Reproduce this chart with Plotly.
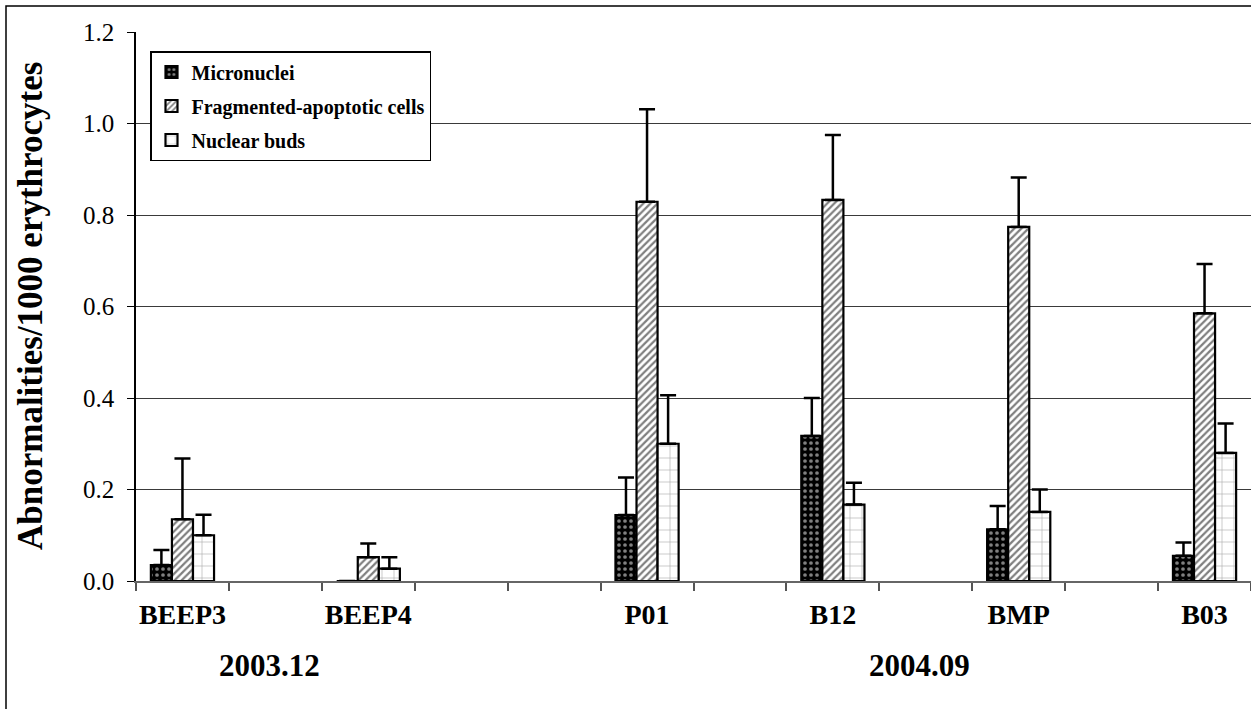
import plotly.graph_objects as go

# ---- data ----
categories = ["BEEP3", " ", "BEEP4", "  ", "   ", "P01", "    ", "B12", "     ", "BMP", "      ", "B03"]
sites = ["BEEP3", "BEEP4", "P01", "B12", "BMP", "B03"]
micronuclei = [0.035, 0.0, 0.144, 0.317, 0.113, 0.055]
micronuclei_err = [0.033, 0.0, 0.082, 0.083, 0.051, 0.029]
fragmented = [0.135, 0.052, 0.829, 0.833, 0.774, 0.585]
fragmented_err = [0.133, 0.030, 0.202, 0.142, 0.108, 0.108]
nuclear_buds = [0.100, 0.027, 0.300, 0.167, 0.151, 0.280]
nuclear_buds_err = [0.045, 0.025, 0.106, 0.048, 0.049, 0.064]
groups = {"2003.12": ["BEEP3", "BEEP4"], "2004.09": ["P01", "B12", "BMP", "B03"]}
y_ticks = [0.0, 0.2, 0.4, 0.6, 0.8, 1.0, 1.2]


def expand(vals):
    m = dict(zip(sites, vals))
    return [m.get(c) for c in categories]


FONT = "Liberation Serif"
W, H = 1251, 709
L, R, T, B = 136, 0, 32, 128
pw, ph = W - L - R, H - T - B

fig = go.Figure()
series = [
    ("Micronuclei", micronuclei, micronuclei_err,
     dict(color="black", pattern=dict(shape=".", fgcolor="white", size=6, solidity=0.3))),
    ("Fragmented-apoptotic cells", fragmented, fragmented_err,
     dict(color="white", pattern=dict(shape="/", fgcolor="black", size=5, solidity=0.45))),
    ("Nuclear buds", nuclear_buds, nuclear_buds_err,
     dict(color="white", pattern=dict(shape="+", fgcolor="#555555", size=12, solidity=0.1))),
]
for name, vals, errs, mk in series:
    mk["line"] = dict(color="black", width=2.2)
    fig.add_trace(go.Bar(
        x=categories, y=expand(vals), name=name, marker=mk, legendgroup=name,
        error_y=dict(type="data", symmetric=False, array=expand(errs),
                     arrayminus=[0] * len(categories), color="black",
                     thickness=2.5, width=8),
    ))

# group labels centred under their members
for label, members in groups.items():
    idx = [categories.index(m) for m in members]
    fig.add_annotation(x=sum(idx) / len(idx), y=0, xref="x", yref="paper",
                       yshift=-84, xshift=-6, yanchor="middle", showarrow=False, text=label,
                       font=dict(family=FONT, size=31, color="black", weight="bold"))

# y-axis title
fig.add_annotation(x=(30 - L) / pw, y=(H - B - 306) / ph, xref="paper", yref="paper",
                   text="Abnormalities/1000 erythrocytes", textangle=-90, showarrow=False,
                   xanchor="center", yanchor="middle",
                   font=dict(family=FONT, size=35, color="black", weight="bold"))

# outer chart frame
fig.add_shape(type="rect", xref="paper", yref="paper",
              x0=(6 - L) / pw, x1=(W + 10 - L) / pw,
              y0=(H - B - (H + 10)) / ph, y1=(H - B - 6) / ph,
              line=dict(color="black", width=1.5), fillcolor="rgba(0,0,0,0)")

fig.update_layout(
    width=W, height=H, margin=dict(l=L, r=R, t=T, b=B, pad=0),
    paper_bgcolor="white", plot_bgcolor="white",
    barmode="group", bargap=0.32, bargroupgap=0,
    font=dict(family=FONT, color="black"),
    showlegend=True,
    legend=dict(x=(150 - L) / pw, y=(H - B - 51) / ph, xanchor="left", yanchor="top",
                bgcolor="white", bordercolor="black", borderwidth=1.5,
                font=dict(family=FONT, size=20, color="black", weight="bold"),
                itemwidth=30, tracegroupgap=5),
    xaxis=dict(type="category", tickson="boundaries", ticks="outside", ticklen=8,
               tickwidth=1.5, tickcolor="#555555", showline=True, linecolor="#666666",
               linewidth=2, showgrid=False, zeroline=False, ticklabelstandoff=7,
               tickangle=0,
               tickfont=dict(family=FONT, size=28, color="black", weight="bold"),
               range=[-0.5, len(categories) - 0.5], fixedrange=True),
    yaxis=dict(range=[0, 1.2], tickvals=y_ticks, tickformat=".1f", ticks="outside",
               ticklen=7, tickcolor="black", showline=True, linecolor="black", linewidth=1.5,
               showgrid=True, gridcolor="#3a3a3a", gridwidth=1, zeroline=False,
               ticklabelstandoff=8,
               tickfont=dict(family=FONT, size=25, color="black")),
)

fig.write_html("out.html", config={"displayModeBar": False},
               post_script="document.body.style.margin='0px';")
